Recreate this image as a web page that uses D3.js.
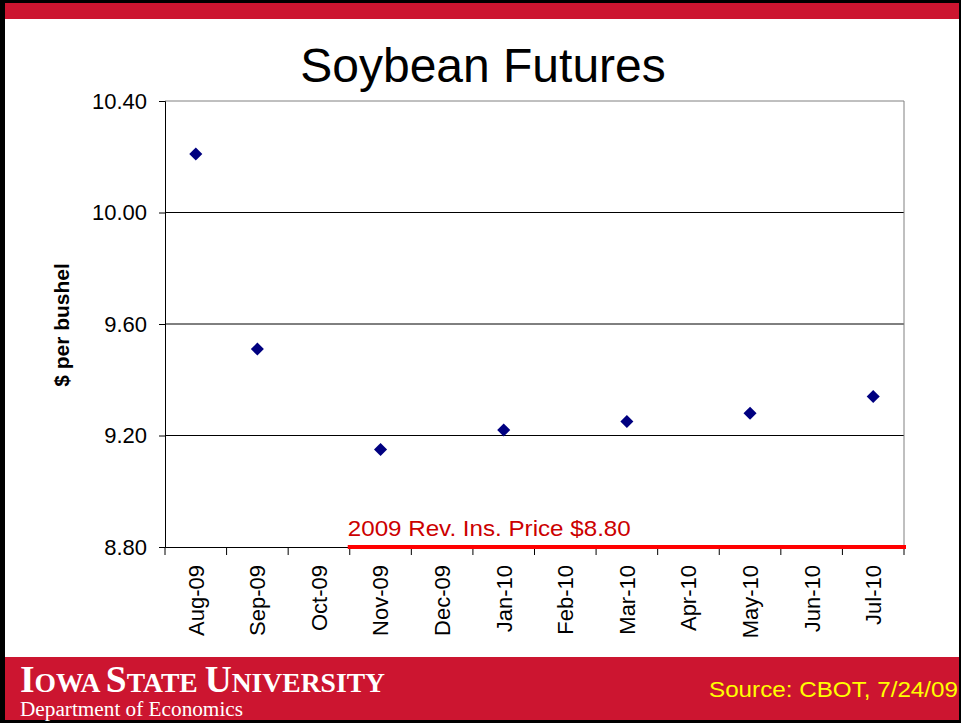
<!DOCTYPE html>
<html>
<head>
<meta charset="utf-8">
<script src="https://cdn.jsdelivr.net/npm/d3@7"></script>
<style>
  html, body { margin: 0; padding: 0; background: #fff; }
  svg { display: block; font-family: "Liberation Sans", Arial, sans-serif; }
</style>
</head>
<body>
<div id="chart"></div>
<script>
// Chart data
const months = ['Aug-09', 'Sep-09', 'Oct-09', 'Nov-09', 'Dec-09', 'Jan-10',
                'Feb-10', 'Mar-10', 'Apr-10', 'May-10', 'Jun-10', 'Jul-10'];
const contractMonths = ['Aug-09', 'Sep-09', 'Nov-09', 'Jan-10', 'Mar-10', 'May-10', 'Jul-10'];
const prices = [10.21, 9.51, 9.15, 9.22, 9.25, 9.28, 9.34];
const yTicks = [8.80, 9.20, 9.60, 10.00, 10.40];
const revInsPrice = 8.80;
const revInsStart = 'Nov-09';

const W = 961, H = 723;
const cardinal = '#CC1530';

const svg = d3.select('#chart').append('svg')
    .attr('width', W)
    .attr('height', H);

// Slide frame
svg.append('rect').attr('width', W).attr('height', H).attr('fill', '#fff');
svg.append('rect').attr('x', 0).attr('y', 3).attr('width', W).attr('height', 16).attr('fill', cardinal);
svg.append('rect').attr('x', 0).attr('y', 657).attr('width', W).attr('height', 64).attr('fill', cardinal);
svg.append('rect').attr('x', 0).attr('y', 0).attr('width', W).attr('height', 3).attr('fill', '#000');
svg.append('rect').attr('x', 0).attr('y', 0).attr('width', 5).attr('height', H).attr('fill', '#000');
svg.append('rect').attr('x', W - 2).attr('y', 0).attr('width', 2).attr('height', H).attr('fill', '#000');
svg.append('rect').attr('x', 0).attr('y', H - 3).attr('width', W).attr('height', 3).attr('fill', '#000');

// Title
svg.append('text')
    .attr('x', 483)
    .attr('y', 82)
    .attr('text-anchor', 'middle')
    .attr('font-size', 48)
    .attr('fill', '#000')
    .text('Soybean Futures');

// Scales
const x = d3.scaleBand().domain(months).range([165, 904]);
const y = d3.scaleLinear().domain([8.80, 10.40]).range([547, 101]);

// Gridlines
svg.append('g').selectAll('line')
    .data(yTicks.slice(1, -1))
    .join('line')
    .attr('x1', 165).attr('x2', 904)
    .attr('y1', d => y(d)).attr('y2', d => y(d))
    .attr('stroke', '#000')
    .attr('stroke-width', 1);

// Plot area border (top and right)
svg.append('line')
    .attr('x1', 165).attr('x2', 904).attr('y1', y(10.40)).attr('y2', y(10.40))
    .attr('stroke', '#808080');
svg.append('line')
    .attr('x1', 904).attr('x2', 904).attr('y1', y(10.40)).attr('y2', y(8.80))
    .attr('stroke', '#808080');

// Y axis
const yAxis = svg.append('g')
    .attr('transform', 'translate(165,0)')
    .call(d3.axisLeft(y).tickValues(yTicks).tickFormat(d3.format('.2f')).tickSize(6).tickPadding(12));
yAxis.select('.domain').attr('stroke', '#000');
yAxis.selectAll('.tick line').attr('stroke', '#000');
yAxis.selectAll('.tick text')
    .attr('font-family', '"Liberation Sans", Arial, sans-serif')
    .attr('font-size', 22)
    .attr('fill', '#000');

// X axis (labels at category centres, ticks between categories)
const xAxis = svg.append('g')
    .attr('transform', `translate(0,${y(8.80)})`)
    .call(d3.axisBottom(x).tickSize(0).tickSizeOuter(0));
xAxis.select('.domain').attr('stroke', '#000');
xAxis.selectAll('.tick text')
    .attr('font-family', '"Liberation Sans", Arial, sans-serif')
    .attr('font-size', 22)
    .attr('fill', '#000')
    .attr('text-anchor', 'end')
    .attr('transform', 'translate(0,18) rotate(-90)')
    .attr('x', 0)
    .attr('y', 0)
    .attr('dy', '0.36em');

const boundaries = months.map(m => x(m)).concat([x.range()[1]]);
svg.append('g').selectAll('line')
    .data(boundaries)
    .join('line')
    .attr('x1', d => d).attr('x2', d => d)
    .attr('y1', y(8.80)).attr('y2', y(8.80) + 8)
    .attr('stroke', '#000');

// Y axis title
svg.append('text')
    .attr('transform', 'translate(69,325) rotate(-90)')
    .attr('text-anchor', 'middle')
    .attr('font-size', 21)
    .attr('font-weight', 'bold')
    .attr('fill', '#000')
    .text('$ per bushel');

// Revenue insurance price line
svg.append('line')
    .attr('x1', x(revInsStart) - 2)
    .attr('x2', 906)
    .attr('y1', y(revInsPrice))
    .attr('y2', y(revInsPrice))
    .attr('stroke', '#FF0000')
    .attr('stroke-width', 4);
svg.append('text')
    .attr('x', x(revInsStart) - 2)
    .attr('y', y(revInsPrice) - 11)
    .attr('font-size', 22)
    .attr('fill', '#CC0000')
    .attr('textLength', 283)
    .attr('lengthAdjust', 'spacingAndGlyphs')
    .text('2009 Rev. Ins. Price $8.80');

// Futures points
const diamond = d3.symbol().type(d3.symbolSquare).size(85);
svg.append('g').selectAll('path')
    .data(contractMonths.map((m, i) => ({ m, v: prices[i] })))
    .join('path')
    .attr('d', diamond)
    .attr('transform', d => `translate(${x(d.m) + x.bandwidth() / 2},${y(d.v)}) rotate(45)`)
    .attr('fill', '#000080');

// Footer
const isu = svg.append('text')
    .attr('x', 20)
    .attr('y', 692)
    .attr('font-family', '"Liberation Serif", "Times New Roman", serif')
    .attr('font-weight', 'bold')
    .attr('fill', '#fff')
    .attr('textLength', 365)
    .attr('lengthAdjust', 'spacingAndGlyphs');
[['I', 38], ['OWA ', 28], ['S', 38], ['TATE ', 28], ['U', 38], ['NIVERSITY', 28]].forEach(([t, s]) => {
    isu.append('tspan').attr('font-size', s).text(t);
});

svg.append('text')
    .attr('x', 20)
    .attr('y', 716)
    .attr('font-family', '"Liberation Serif", "Times New Roman", serif')
    .attr('font-size', 20)
    .attr('fill', '#fff')
    .attr('textLength', 223)
    .attr('lengthAdjust', 'spacingAndGlyphs')
    .text('Department of Economics');

svg.append('text')
    .attr('x', 709)
    .attr('y', 697)
    .attr('font-size', 22)
    .attr('fill', '#FFFF00')
    .attr('textLength', 249)
    .attr('lengthAdjust', 'spacingAndGlyphs')
    .text('Source: CBOT, 7/24/09');
</script>
</body>
</html>
